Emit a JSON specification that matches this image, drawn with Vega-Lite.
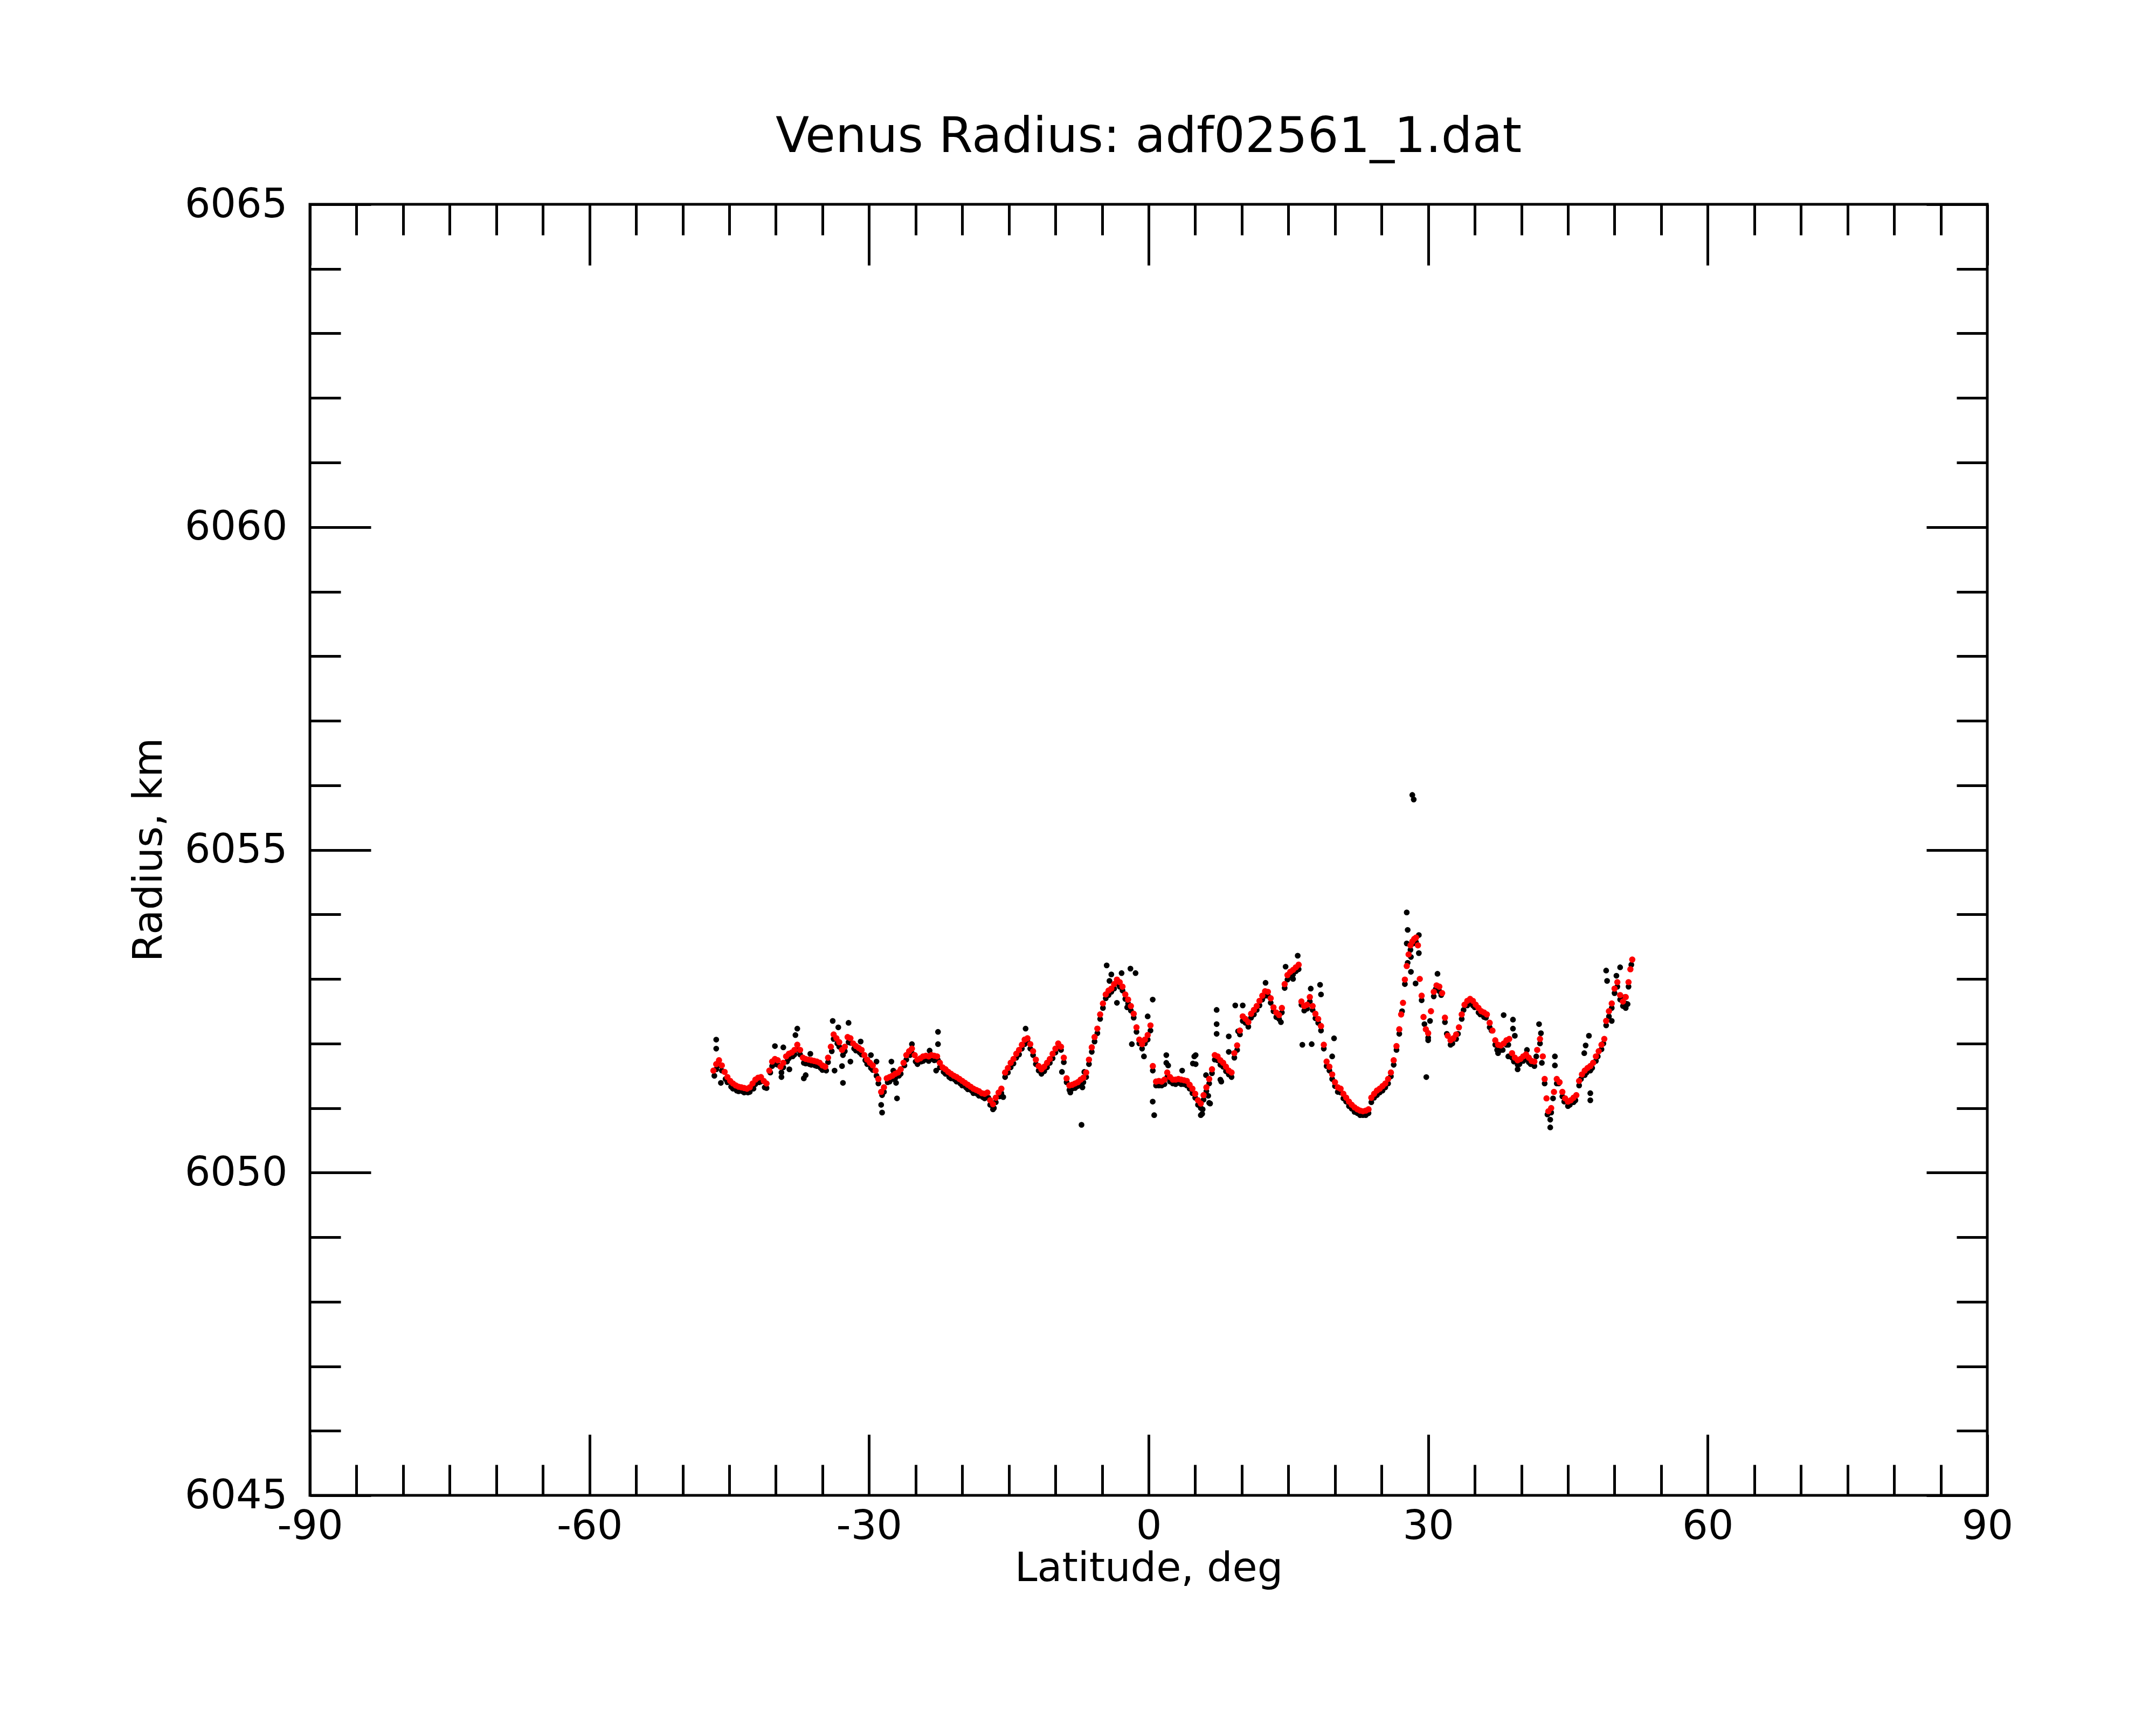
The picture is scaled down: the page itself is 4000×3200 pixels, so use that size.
{
  "$schema": "https://vega.github.io/schema/vega-lite/v6.json",
  "width": 3112,
  "height": 2395,
  "autosize": "none",
  "padding": {"left": 575, "top": 379, "right": 313, "bottom": 426},
  "background": "white",
  "config": {
    "view": {"stroke": "black", "strokeWidth": 5},
    "font": "DejaVu Sans",
    "axis": {
      "grid": false,
      "domain": false,
      "tickColor": "black",
      "tickWidth": 5,
      "labelFont": "DejaVu Sans",
      "labelFontSize": 75,
      "labelColor": "black",
      "labelLimit": 0,
      "titleFont": "DejaVu Sans",
      "titleFontSize": 75,
      "titleFontWeight": "normal",
      "titleColor": "black"
    }
  },
  "title": {
    "text": "Venus Radius: adf02561_1.dat",
    "font": "DejaVu Sans",
    "fontSize": 91,
    "fontWeight": "normal",
    "color": "black",
    "anchor": "middle",
    "baseline": "alphabetic",
    "offset": -31
  },
  "datasets": {
    "fit": [
      {"lat":-46.7,"r":6051.58},{"lat":-46.4,"r":6051.68},{"lat":-46.1,"r":6051.74},{"lat":-45.8,"r":6051.66},{"lat":-45.5,"r":6051.56},{"lat":-45.2,"r":6051.48},{"lat":-44.9,"r":6051.42},{"lat":-44.6,"r":6051.38},{"lat":-44.3,"r":6051.35},{"lat":-44.0,"r":6051.33},
      {"lat":-43.7,"r":6051.32},{"lat":-43.4,"r":6051.31},{"lat":-43.1,"r":6051.3},{"lat":-42.8,"r":6051.32},{"lat":-42.5,"r":6051.38},{"lat":-42.2,"r":6051.44},{"lat":-41.9,"r":6051.47},{"lat":-41.6,"r":6051.48},{"lat":-41.3,"r":6051.42},{"lat":-41.0,"r":6051.38},
      {"lat":-40.7,"r":6051.58},{"lat":-40.4,"r":6051.72},{"lat":-40.1,"r":6051.76},{"lat":-39.8,"r":6051.74},{"lat":-39.5,"r":6051.64},{"lat":-39.2,"r":6051.7},{"lat":-38.9,"r":6051.8},{"lat":-38.6,"r":6051.84},{"lat":-38.3,"r":6051.86},{"lat":-38.0,"r":6051.9},
      {"lat":-37.7,"r":6051.98},{"lat":-37.4,"r":6051.9},{"lat":-37.1,"r":6051.78},{"lat":-36.8,"r":6051.76},{"lat":-36.5,"r":6051.75},{"lat":-36.2,"r":6051.74},{"lat":-35.9,"r":6051.73},{"lat":-35.6,"r":6051.72},{"lat":-35.3,"r":6051.7},{"lat":-35.0,"r":6051.66},
      {"lat":-34.7,"r":6051.64},{"lat":-34.4,"r":6051.78},{"lat":-34.1,"r":6051.95},{"lat":-33.8,"r":6052.14},{"lat":-33.5,"r":6052.08},{"lat":-33.2,"r":6052.02},{"lat":-32.9,"r":6051.9},{"lat":-32.6,"r":6051.95},{"lat":-32.3,"r":6052.1},{"lat":-32.0,"r":6052.08},
      {"lat":-31.7,"r":6052.0},{"lat":-31.4,"r":6051.96},{"lat":-31.1,"r":6051.93},{"lat":-30.8,"r":6051.9},{"lat":-30.5,"r":6051.82},{"lat":-30.2,"r":6051.75},{"lat":-29.9,"r":6051.7},{"lat":-29.6,"r":6051.66},{"lat":-29.3,"r":6051.58},{"lat":-29.0,"r":6051.45},
      {"lat":-28.7,"r":6051.25},{"lat":-28.4,"r":6051.32},{"lat":-28.1,"r":6051.46},{"lat":-27.8,"r":6051.48},{"lat":-27.5,"r":6051.5},{"lat":-27.2,"r":6051.53},{"lat":-26.9,"r":6051.55},{"lat":-26.6,"r":6051.6},{"lat":-26.3,"r":6051.7},{"lat":-26.0,"r":6051.82},
      {"lat":-25.7,"r":6051.88},{"lat":-25.4,"r":6051.92},{"lat":-25.1,"r":6051.82},{"lat":-24.8,"r":6051.75},{"lat":-24.5,"r":6051.77},{"lat":-24.2,"r":6051.8},{"lat":-23.9,"r":6051.81},{"lat":-23.6,"r":6051.8},{"lat":-23.3,"r":6051.82},{"lat":-23.0,"r":6051.81},
      {"lat":-22.7,"r":6051.8},{"lat":-22.4,"r":6051.7},{"lat":-22.1,"r":6051.63},{"lat":-21.8,"r":6051.6},{"lat":-21.5,"r":6051.56},{"lat":-21.2,"r":6051.53},{"lat":-20.9,"r":6051.5},{"lat":-20.6,"r":6051.48},{"lat":-20.3,"r":6051.45},{"lat":-20.0,"r":6051.42},
      {"lat":-19.7,"r":6051.39},{"lat":-19.4,"r":6051.36},{"lat":-19.1,"r":6051.33},{"lat":-18.8,"r":6051.3},{"lat":-18.5,"r":6051.28},{"lat":-18.2,"r":6051.26},{"lat":-17.9,"r":6051.23},{"lat":-17.6,"r":6051.22},{"lat":-17.3,"r":6051.24},{"lat":-17.0,"r":6051.12},
      {"lat":-16.7,"r":6051.06},{"lat":-16.4,"r":6051.16},{"lat":-16.1,"r":6051.24},{"lat":-15.8,"r":6051.3},{"lat":-15.4,"r":6051.55},{"lat":-15.1,"r":6051.62},{"lat":-14.8,"r":6051.7},{"lat":-14.5,"r":6051.76},{"lat":-14.2,"r":6051.84},{"lat":-13.9,"r":6051.9},
      {"lat":-13.6,"r":6051.98},{"lat":-13.3,"r":6052.06},{"lat":-13.0,"r":6052.08},{"lat":-12.7,"r":6051.99},{"lat":-12.4,"r":6051.88},{"lat":-12.1,"r":6051.75},{"lat":-11.8,"r":6051.65},{"lat":-11.5,"r":6051.6},{"lat":-11.2,"r":6051.64},{"lat":-10.9,"r":6051.7},
      {"lat":-10.6,"r":6051.76},{"lat":-10.3,"r":6051.84},{"lat":-10.0,"r":6051.92},{"lat":-9.7,"r":6052.0},{"lat":-9.4,"r":6051.95},{"lat":-9.1,"r":6051.78},{"lat":-8.8,"r":6051.46},{"lat":-8.5,"r":6051.35},{"lat":-8.2,"r":6051.36},{"lat":-7.9,"r":6051.38},
      {"lat":-7.6,"r":6051.4},{"lat":-7.3,"r":6051.44},{"lat":-7.0,"r":6051.47},{"lat":-6.7,"r":6051.55},{"lat":-6.4,"r":6051.75},{"lat":-6.1,"r":6051.94},{"lat":-5.8,"r":6052.1},{"lat":-5.5,"r":6052.23},{"lat":-5.2,"r":6052.45},{"lat":-4.9,"r":6052.62},
      {"lat":-4.6,"r":6052.76},{"lat":-4.3,"r":6052.82},{"lat":-4.0,"r":6052.85},{"lat":-3.7,"r":6052.92},{"lat":-3.4,"r":6052.99},{"lat":-3.1,"r":6052.95},{"lat":-2.8,"r":6052.88},{"lat":-2.5,"r":6052.76},{"lat":-2.2,"r":6052.68},{"lat":-1.9,"r":6052.58},
      {"lat":-1.6,"r":6052.46},{"lat":-1.3,"r":6052.25},{"lat":-1.0,"r":6052.06},{"lat":-0.7,"r":6051.99},{"lat":-0.4,"r":6052.06},{"lat":-0.1,"r":6052.13},{"lat":0.2,"r":6052.28},{"lat":0.45,"r":6051.65},{"lat":0.8,"r":6051.41},{"lat":1.1,"r":6051.42},
      {"lat":1.4,"r":6051.41},{"lat":1.7,"r":6051.44},{"lat":2.0,"r":6051.55},{"lat":2.3,"r":6051.48},{"lat":2.6,"r":6051.44},{"lat":2.9,"r":6051.44},{"lat":3.2,"r":6051.45},{"lat":3.5,"r":6051.44},{"lat":3.8,"r":6051.43},{"lat":4.1,"r":6051.42},
      {"lat":4.4,"r":6051.36},{"lat":4.7,"r":6051.3},{"lat":5.0,"r":6051.22},{"lat":5.3,"r":6051.12},{"lat":5.6,"r":6051.07},{"lat":5.9,"r":6051.2},{"lat":6.2,"r":6051.32},{"lat":6.5,"r":6051.45},{"lat":6.8,"r":6051.6},{"lat":7.1,"r":6051.82},
      {"lat":7.4,"r":6051.8},{"lat":7.7,"r":6051.74},{"lat":8.0,"r":6051.7},{"lat":8.3,"r":6051.64},{"lat":8.6,"r":6051.58},{"lat":8.9,"r":6051.55},{"lat":9.2,"r":6051.85},{"lat":9.5,"r":6051.97},{"lat":9.8,"r":6052.2},{"lat":10.1,"r":6052.42},
      {"lat":10.4,"r":6052.38},{"lat":10.7,"r":6052.33},{"lat":11.0,"r":6052.46},{"lat":11.3,"r":6052.52},{"lat":11.6,"r":6052.58},{"lat":11.9,"r":6052.66},{"lat":12.2,"r":6052.74},{"lat":12.5,"r":6052.81},{"lat":12.8,"r":6052.8},{"lat":13.1,"r":6052.7},
      {"lat":13.4,"r":6052.56},{"lat":13.7,"r":6052.48},{"lat":14.0,"r":6052.44},{"lat":14.3,"r":6052.55},{"lat":14.6,"r":6052.92},{"lat":14.9,"r":6053.06},{"lat":15.2,"r":6053.11},{"lat":15.5,"r":6053.14},{"lat":15.8,"r":6053.18},{"lat":16.1,"r":6053.22},
      {"lat":16.4,"r":6052.65},{"lat":16.7,"r":6052.58},{"lat":17.0,"r":6052.6},{"lat":17.3,"r":6052.72},{"lat":17.6,"r":6052.58},{"lat":17.9,"r":6052.46},{"lat":18.2,"r":6052.38},{"lat":18.5,"r":6052.27},{"lat":18.8,"r":6051.98},{"lat":19.1,"r":6051.72},
      {"lat":19.4,"r":6051.64},{"lat":19.7,"r":6051.52},{"lat":20.0,"r":6051.4},{"lat":20.3,"r":6051.32},{"lat":20.6,"r":6051.3},{"lat":20.9,"r":6051.22},{"lat":21.2,"r":6051.16},{"lat":21.5,"r":6051.1},{"lat":21.8,"r":6051.05},{"lat":22.1,"r":6051.01},
      {"lat":22.4,"r":6050.98},{"lat":22.7,"r":6050.96},{"lat":23.0,"r":6050.95},{"lat":23.3,"r":6050.96},{"lat":23.6,"r":6050.98},{"lat":23.9,"r":6051.16},{"lat":24.2,"r":6051.22},{"lat":24.5,"r":6051.27},{"lat":24.8,"r":6051.3},{"lat":25.1,"r":6051.34},
      {"lat":25.4,"r":6051.38},{"lat":25.7,"r":6051.45},{"lat":26.0,"r":6051.55},{"lat":26.3,"r":6051.74},{"lat":26.6,"r":6051.96},{"lat":26.9,"r":6052.22},{"lat":27.1,"r":6052.45},{"lat":27.3,"r":6052.63},{"lat":27.5,"r":6052.99},{"lat":27.7,"r":6053.2},
      {"lat":27.9,"r":6053.38},{"lat":28.1,"r":6053.52},{"lat":28.3,"r":6053.58},{"lat":28.5,"r":6053.62},{"lat":28.7,"r":6053.64},{"lat":28.9,"r":6053.52},{"lat":29.1,"r":6053.0},{"lat":29.3,"r":6052.74},{"lat":29.5,"r":6052.41},{"lat":29.75,"r":6052.22},
      {"lat":30.0,"r":6052.16},{"lat":30.3,"r":6052.5},{"lat":30.6,"r":6052.8},{"lat":30.9,"r":6052.9},{"lat":31.2,"r":6052.88},{"lat":31.5,"r":6052.78},{"lat":31.8,"r":6052.4},{"lat":32.1,"r":6052.12},{"lat":32.4,"r":6052.05},{"lat":32.7,"r":6052.08},
      {"lat":33.0,"r":6052.14},{"lat":33.3,"r":6052.25},{"lat":33.6,"r":6052.45},{"lat":33.9,"r":6052.6},{"lat":34.2,"r":6052.66},{"lat":34.5,"r":6052.69},{"lat":34.8,"r":6052.66},{"lat":35.1,"r":6052.6},{"lat":35.4,"r":6052.55},{"lat":35.7,"r":6052.5},
      {"lat":36.0,"r":6052.48},{"lat":36.3,"r":6052.45},{"lat":36.6,"r":6052.32},{"lat":36.9,"r":6052.2},{"lat":37.2,"r":6052.05},{"lat":37.5,"r":6051.98},{"lat":37.8,"r":6051.97},{"lat":38.1,"r":6052.0},{"lat":38.4,"r":6052.05},{"lat":38.7,"r":6052.07},
      {"lat":39.0,"r":6051.85},{"lat":39.3,"r":6051.78},{"lat":39.6,"r":6051.74},{"lat":39.9,"r":6051.76},{"lat":40.2,"r":6051.8},{"lat":40.5,"r":6051.83},{"lat":40.8,"r":6051.78},{"lat":41.1,"r":6051.73},{"lat":41.4,"r":6051.72},{"lat":41.7,"r":6051.9},
      {"lat":42.0,"r":6052.07},{"lat":42.3,"r":6051.8},{"lat":42.5,"r":6051.45},{"lat":42.7,"r":6051.15},{"lat":42.9,"r":6050.95},{"lat":43.2,"r":6051.0},{"lat":43.5,"r":6051.25},{"lat":43.8,"r":6051.45},{"lat":44.1,"r":6051.4},{"lat":44.4,"r":6051.25},
      {"lat":44.7,"r":6051.15},{"lat":45.0,"r":6051.1},{"lat":45.3,"r":6051.12},{"lat":45.6,"r":6051.16},{"lat":45.9,"r":6051.2},{"lat":46.2,"r":6051.42},{"lat":46.5,"r":6051.52},{"lat":46.8,"r":6051.58},{"lat":47.1,"r":6051.62},{"lat":47.4,"r":6051.65},
      {"lat":47.7,"r":6051.7},{"lat":48.0,"r":6051.8},{"lat":48.3,"r":6051.88},{"lat":48.6,"r":6051.98},{"lat":48.9,"r":6052.07},{"lat":49.1,"r":6052.35},{"lat":49.4,"r":6052.5},{"lat":49.7,"r":6052.62},{"lat":50.0,"r":6052.85},{"lat":50.3,"r":6052.95},
      {"lat":50.6,"r":6052.75},{"lat":50.9,"r":6052.65},{"lat":51.2,"r":6052.72},{"lat":51.5,"r":6052.95},{"lat":51.7,"r":6053.15},{"lat":51.9,"r":6053.3}
    ],
    "obs": [
      {"lat":-46.6,"r":6051.5},{"lat":-46.0,"r":6051.66},{"lat":-45.4,"r":6051.45},{"lat":-44.8,"r":6051.33},{"lat":-44.2,"r":6051.27},{"lat":-43.6,"r":6051.26},{"lat":-43.0,"r":6051.24},{"lat":-42.4,"r":6051.3},{"lat":-41.8,"r":6051.4},{"lat":-41.2,"r":6051.32},
      {"lat":-40.6,"r":6051.55},{"lat":-40.0,"r":6051.68},{"lat":-39.4,"r":6051.55},{"lat":-38.8,"r":6051.72},{"lat":-38.2,"r":6051.8},{"lat":-37.6,"r":6051.9},{"lat":-37.0,"r":6051.7},{"lat":-36.4,"r":6051.68},{"lat":-35.8,"r":6051.66},{"lat":-35.2,"r":6051.62},
      {"lat":-34.6,"r":6051.58},{"lat":-34.0,"r":6051.88},{"lat":-33.4,"r":6052.0},{"lat":-32.8,"r":6051.82},{"lat":-32.2,"r":6052.02},{"lat":-31.6,"r":6051.92},{"lat":-31.0,"r":6051.86},{"lat":-30.4,"r":6051.74},{"lat":-29.8,"r":6051.62},{"lat":-29.2,"r":6051.5},
      {"lat":-28.6,"r":6051.2},{"lat":-28.0,"r":6051.4},{"lat":-27.4,"r":6051.45},{"lat":-26.8,"r":6051.5},{"lat":-26.2,"r":6051.66},{"lat":-25.6,"r":6051.82},{"lat":-25.0,"r":6051.72},{"lat":-24.4,"r":6051.72},{"lat":-23.8,"r":6051.75},{"lat":-23.2,"r":6051.76},
      {"lat":-22.6,"r":6051.74},{"lat":-22.0,"r":6051.56},{"lat":-21.4,"r":6051.48},{"lat":-20.8,"r":6051.44},{"lat":-20.2,"r":6051.38},{"lat":-19.6,"r":6051.32},{"lat":-19.0,"r":6051.27},{"lat":-18.4,"r":6051.22},{"lat":-17.8,"r":6051.17},{"lat":-17.2,"r":6051.16},
      {"lat":-16.6,"r":6051.0},{"lat":-16.0,"r":6051.18},{"lat":-15.4,"r":6051.48},{"lat":-14.8,"r":6051.63},{"lat":-14.2,"r":6051.78},{"lat":-13.6,"r":6051.92},{"lat":-13.0,"r":6052.03},{"lat":-12.4,"r":6051.82},{"lat":-11.8,"r":6051.58},{"lat":-11.2,"r":6051.57},
      {"lat":-10.6,"r":6051.7},{"lat":-10.0,"r":6051.86},{"lat":-9.4,"r":6051.9},{"lat":-8.8,"r":6051.4},{"lat":-8.2,"r":6051.3},{"lat":-7.6,"r":6051.34},{"lat":-7.0,"r":6051.4},{"lat":-6.4,"r":6051.68},{"lat":-5.8,"r":6052.03},{"lat":-5.2,"r":6052.38},
      {"lat":-4.6,"r":6052.7},{"lat":-4.0,"r":6052.8},{"lat":-3.4,"r":6052.93},{"lat":-2.8,"r":6052.82},{"lat":-2.2,"r":6052.62},{"lat":-1.6,"r":6052.4},{"lat":-1.0,"r":6052.0},{"lat":-0.4,"r":6052.0},{"lat":0.2,"r":6052.2},{"lat":0.8,"r":6051.35},
      {"lat":1.4,"r":6051.35},{"lat":2.0,"r":6051.48},{"lat":2.6,"r":6051.38},{"lat":3.2,"r":6051.39},{"lat":3.8,"r":6051.37},{"lat":4.4,"r":6051.3},{"lat":5.0,"r":6051.16},{"lat":5.6,"r":6051.0},{"lat":6.2,"r":6051.26},{"lat":6.8,"r":6051.54},
      {"lat":7.4,"r":6051.74},{"lat":8.0,"r":6051.64},{"lat":8.6,"r":6051.52},{"lat":9.2,"r":6051.78},{"lat":9.8,"r":6052.14},{"lat":10.4,"r":6052.32},{"lat":11.0,"r":6052.4},{"lat":11.6,"r":6052.52},{"lat":12.2,"r":6052.68},{"lat":12.8,"r":6052.74},
      {"lat":13.4,"r":6052.5},{"lat":14.0,"r":6052.38},{"lat":14.6,"r":6052.86},{"lat":15.2,"r":6053.05},{"lat":15.8,"r":6053.12},{"lat":16.4,"r":6052.6},{"lat":17.0,"r":6052.54},{"lat":17.6,"r":6052.52},{"lat":18.2,"r":6052.32},{"lat":18.8,"r":6051.92},
      {"lat":19.4,"r":6051.58},{"lat":20.0,"r":6051.34},{"lat":20.6,"r":6051.24},{"lat":21.2,"r":6051.1},{"lat":21.8,"r":6050.99},{"lat":22.4,"r":6050.92},{"lat":23.0,"r":6050.89},{"lat":23.6,"r":6050.92},{"lat":24.2,"r":6051.16},{"lat":24.8,"r":6051.24},
      {"lat":25.4,"r":6051.32},{"lat":26.0,"r":6051.49},{"lat":26.6,"r":6051.9},{"lat":27.2,"r":6052.5},{"lat":27.8,"r":6053.25},{"lat":28.4,"r":6053.55},{"lat":29.0,"r":6053.4},{"lat":29.6,"r":6052.3},{"lat":30.2,"r":6052.35},{"lat":30.8,"r":6052.84},
      {"lat":31.4,"r":6052.75},{"lat":32.0,"r":6052.15},{"lat":32.6,"r":6052.0},{"lat":33.2,"r":6052.15},{"lat":33.8,"r":6052.52},{"lat":34.4,"r":6052.62},{"lat":35.0,"r":6052.56},{"lat":35.6,"r":6052.45},{"lat":36.2,"r":6052.4},{"lat":36.8,"r":6052.2},
      {"lat":37.4,"r":6051.9},{"lat":38.0,"r":6051.9},{"lat":38.6,"r":6051.98},{"lat":39.2,"r":6051.72},{"lat":39.8,"r":6051.68},{"lat":40.4,"r":6051.76},{"lat":41.0,"r":6051.68},{"lat":41.6,"r":6051.8},{"lat":42.2,"r":6051.7},{"lat":42.8,"r":6050.9},
      {"lat":43.4,"r":6051.15},{"lat":44.0,"r":6051.38},{"lat":44.6,"r":6051.1},{"lat":45.2,"r":6051.05},{"lat":45.8,"r":6051.12},{"lat":46.4,"r":6051.45},{"lat":47.0,"r":6051.55},{"lat":47.6,"r":6051.62},{"lat":48.2,"r":6051.8},{"lat":48.8,"r":6052.0},
      {"lat":49.4,"r":6052.42},{"lat":50.0,"r":6052.78},{"lat":50.6,"r":6052.68},{"lat":51.2,"r":6052.62},{"lat":51.8,"r":6053.22},
      {"lat":-46.4,"r":6051.6},{"lat":-45.8,"r":6051.58},{"lat":-45.2,"r":6051.4},{"lat":-44.6,"r":6051.3},{"lat":-44.0,"r":6051.26},{"lat":-43.4,"r":6051.24},{"lat":-42.8,"r":6051.25},{"lat":-42.2,"r":6051.37},{"lat":-41.6,"r":6051.41},{"lat":-41.0,"r":6051.31},
      {"lat":-40.4,"r":6051.65},{"lat":-39.8,"r":6051.67},{"lat":-39.2,"r":6051.63},{"lat":-38.6,"r":6051.77},{"lat":-38.0,"r":6051.83},{"lat":-37.4,"r":6051.83},{"lat":-36.8,"r":6051.69},{"lat":-36.2,"r":6051.67},{"lat":-35.6,"r":6051.65},{"lat":-35.0,"r":6051.59},
      {"lat":-34.4,"r":6051.71},{"lat":-33.8,"r":6052.07},{"lat":-33.2,"r":6051.95},{"lat":-32.6,"r":6051.88},{"lat":-32.0,"r":6052.01},{"lat":-31.4,"r":6051.89},{"lat":-30.8,"r":6051.83},{"lat":-30.2,"r":6051.68},{"lat":-29.6,"r":6051.59},{"lat":-29.0,"r":6051.38},
      {"lat":-28.4,"r":6051.25},{"lat":-27.8,"r":6051.41},{"lat":-27.2,"r":6051.46},{"lat":-26.6,"r":6051.53},{"lat":-26.0,"r":6051.75},{"lat":-25.4,"r":6051.85},{"lat":-24.8,"r":6051.68},{"lat":-24.2,"r":6051.73},{"lat":-23.6,"r":6051.73},{"lat":-23.0,"r":6051.74},
      {"lat":-22.4,"r":6051.63},{"lat":-21.8,"r":6051.53},{"lat":-21.2,"r":6051.46},{"lat":-20.6,"r":6051.41},{"lat":-20.0,"r":6051.35},{"lat":-19.4,"r":6051.29},{"lat":-18.8,"r":6051.23},{"lat":-18.2,"r":6051.19},{"lat":-17.6,"r":6051.15},{"lat":-17.0,"r":6051.05},
      {"lat":-16.4,"r":6051.09},{"lat":-15.8,"r":6051.23},{"lat":-15.1,"r":6051.55},{"lat":-14.5,"r":6051.69},{"lat":-13.9,"r":6051.83},{"lat":-13.3,"r":6051.99},{"lat":-12.7,"r":6051.92},{"lat":-12.1,"r":6051.68},{"lat":-11.5,"r":6051.53},{"lat":-10.9,"r":6051.63},
      {"lat":-10.3,"r":6051.77},{"lat":-9.7,"r":6051.93},{"lat":-9.1,"r":6051.71},{"lat":-8.5,"r":6051.28},{"lat":-7.9,"r":6051.31},{"lat":-7.3,"r":6051.37},{"lat":-6.7,"r":6051.48},{"lat":-6.1,"r":6051.87},{"lat":-5.5,"r":6052.16},{"lat":-4.9,"r":6052.55},
      {"lat":-4.3,"r":6052.75},{"lat":-3.7,"r":6052.85},{"lat":-3.1,"r":6052.88},{"lat":-2.5,"r":6052.69},{"lat":-1.9,"r":6052.51},{"lat":-1.3,"r":6052.18},{"lat":-0.7,"r":6051.92},{"lat":-0.1,"r":6052.06},{"lat":0.45,"r":6051.58},{"lat":1.1,"r":6051.35},
      {"lat":1.7,"r":6051.37},{"lat":2.3,"r":6051.41},{"lat":2.9,"r":6051.37},{"lat":3.5,"r":6051.37},{"lat":4.1,"r":6051.35},{"lat":4.7,"r":6051.23},{"lat":5.3,"r":6051.05},{"lat":5.9,"r":6051.13},{"lat":6.5,"r":6051.38},{"lat":7.1,"r":6051.75},
      {"lat":7.7,"r":6051.67},{"lat":8.3,"r":6051.57},{"lat":8.9,"r":6051.48},{"lat":9.5,"r":6051.9},{"lat":10.1,"r":6052.35},{"lat":10.7,"r":6052.26},{"lat":11.3,"r":6052.45},{"lat":11.9,"r":6052.59},{"lat":12.5,"r":6052.74},{"lat":13.1,"r":6052.63},
      {"lat":13.7,"r":6052.41},{"lat":14.3,"r":6052.48},{"lat":14.9,"r":6052.99},{"lat":15.5,"r":6053.07},{"lat":16.1,"r":6053.15},{"lat":16.7,"r":6052.51},{"lat":17.3,"r":6052.65},{"lat":17.9,"r":6052.39},{"lat":18.5,"r":6052.2},{"lat":19.1,"r":6051.65},
      {"lat":19.7,"r":6051.45},{"lat":20.3,"r":6051.25},{"lat":20.9,"r":6051.15},{"lat":21.5,"r":6051.03},{"lat":22.1,"r":6050.94},{"lat":22.7,"r":6050.89},{"lat":23.3,"r":6050.89},{"lat":23.9,"r":6051.09},{"lat":24.5,"r":6051.2},{"lat":25.1,"r":6051.27},
      {"lat":25.7,"r":6051.38},{"lat":26.3,"r":6051.67},{"lat":26.9,"r":6052.15},{"lat":27.5,"r":6052.92},{"lat":28.1,"r":6053.45},{"lat":28.7,"r":6053.57},{"lat":29.3,"r":6052.67},{"lat":30.0,"r":6052.09},{"lat":30.6,"r":6052.73},{"lat":31.2,"r":6052.81},
      {"lat":31.8,"r":6052.33},{"lat":32.4,"r":6051.98},{"lat":33.0,"r":6052.07},{"lat":33.6,"r":6052.38},{"lat":34.2,"r":6052.59},{"lat":34.8,"r":6052.59},{"lat":35.4,"r":6052.48},{"lat":36.0,"r":6052.41},{"lat":36.6,"r":6052.25},{"lat":37.2,"r":6051.98},
      {"lat":37.8,"r":6051.9},{"lat":38.4,"r":6051.98},{"lat":39.0,"r":6051.78},{"lat":39.6,"r":6051.67},{"lat":40.2,"r":6051.73},{"lat":40.8,"r":6051.71},{"lat":41.4,"r":6051.65},{"lat":42.0,"r":6052.0},{"lat":42.5,"r":6051.38},{"lat":43.2,"r":6050.93},
      {"lat":43.8,"r":6051.38},{"lat":44.4,"r":6051.18},{"lat":45.0,"r":6051.03},{"lat":45.6,"r":6051.09},{"lat":46.2,"r":6051.35},{"lat":46.8,"r":6051.51},{"lat":47.4,"r":6051.58},{"lat":48.0,"r":6051.73},{"lat":48.6,"r":6051.91},{"lat":49.1,"r":6052.28},
      {"lat":49.7,"r":6052.55},{"lat":50.3,"r":6052.88},{"lat":50.9,"r":6052.58},{"lat":51.5,"r":6052.88},
      {"lat":-46.4,"r":6052.06},{"lat":-46.4,"r":6051.92},{"lat":-45.9,"r":6051.39},{"lat":-40.1,"r":6051.96},{"lat":-39.2,"r":6051.94},{"lat":-39.4,"r":6051.48},{"lat":-38.55,"r":6051.6},{"lat":-37.7,"r":6052.23},{"lat":-37.9,"r":6052.13},{"lat":-37.0,"r":6051.46},
      {"lat":-36.8,"r":6051.51},{"lat":-36.3,"r":6051.84},{"lat":-33.9,"r":6052.35},{"lat":-33.3,"r":6052.25},{"lat":-32.2,"r":6052.32},{"lat":-33.7,"r":6051.58},{"lat":-32.8,"r":6051.39},{"lat":-32.9,"r":6051.65},{"lat":-32.0,"r":6051.72},{"lat":-30.9,"r":6052.03},
      {"lat":-29.8,"r":6051.82},{"lat":-29.2,"r":6051.72},{"lat":-28.7,"r":6051.05},{"lat":-28.6,"r":6050.93},{"lat":-27.6,"r":6051.72},{"lat":-27.4,"r":6051.58},{"lat":-27.1,"r":6051.39},{"lat":-27.0,"r":6051.15},{"lat":-25.4,"r":6051.99},{"lat":-23.5,"r":6051.89},
      {"lat":-22.6,"r":6052.18},{"lat":-22.6,"r":6051.99},{"lat":-22.8,"r":6051.58},{"lat":-21.7,"r":6051.58},{"lat":-16.7,"r":6050.98},{"lat":-15.6,"r":6051.17},{"lat":-13.2,"r":6052.23},{"lat":-9.3,"r":6051.56},{"lat":-8.4,"r":6051.24},{"lat":-7.2,"r":6050.74},
      {"lat":-7.1,"r":6051.32},{"lat":-6.9,"r":6051.56},{"lat":-4.5,"r":6053.21},{"lat":-4.2,"r":6052.97},{"lat":-4.0,"r":6053.07},{"lat":-3.4,"r":6052.63},{"lat":-2.9,"r":6053.09},{"lat":-1.95,"r":6053.16},{"lat":-1.4,"r":6053.09},{"lat":-2.3,"r":6052.56},
      {"lat":-1.8,"r":6051.99},{"lat":-0.5,"r":6051.8},{"lat":-0.1,"r":6052.42},{"lat":0.44,"r":6052.68},{"lat":0.44,"r":6051.1},{"lat":0.6,"r":6050.89},{"lat":1.9,"r":6051.82},{"lat":1.9,"r":6051.7},{"lat":3.6,"r":6051.58},{"lat":5.05,"r":6051.82},
      {"lat":5.05,"r":6051.68},{"lat":5.8,"r":6050.98},{"lat":5.6,"r":6050.89},{"lat":6.16,"r":6051.51},{"lat":6.5,"r":6051.08},{"lat":7.3,"r":6052.52},{"lat":7.3,"r":6052.3},{"lat":7.3,"r":6052.15},{"lat":8.6,"r":6052.11},{"lat":9.3,"r":6052.59},
      {"lat":7.8,"r":6051.41},{"lat":10.1,"r":6052.59},{"lat":9.6,"r":6052.19},{"lat":8.6,"r":6051.87},{"lat":7.7,"r":6051.44},{"lat":6.4,"r":6051.19},{"lat":6.6,"r":6051.07},{"lat":5.75,"r":6050.91},{"lat":2.1,"r":6051.66},{"lat":4.9,"r":6051.8},
      {"lat":4.75,"r":6051.69},{"lat":12.55,"r":6052.94},{"lat":14.7,"r":6053.19},{"lat":16.0,"r":6053.36},{"lat":15.5,"r":6053.0},{"lat":16.5,"r":6051.98},{"lat":17.5,"r":6051.99},{"lat":17.4,"r":6052.85},{"lat":18.4,"r":6052.91},{"lat":18.5,"r":6052.76},
      {"lat":19.9,"r":6052.08},{"lat":19.7,"r":6051.8},{"lat":14.2,"r":6052.33},{"lat":27.7,"r":6054.03},{"lat":27.8,"r":6053.76},{"lat":29.0,"r":6053.68},{"lat":27.7,"r":6053.55},{"lat":28.15,"r":6053.34},{"lat":28.15,"r":6053.11},{"lat":28.65,"r":6052.93},
      {"lat":29.8,"r":6051.48},{"lat":30.0,"r":6052.05},{"lat":31.0,"r":6053.08},{"lat":28.3,"r":6055.85},{"lat":28.45,"r":6055.78},{"lat":38.1,"r":6052.44},{"lat":39.1,"r":6052.37},{"lat":39.1,"r":6052.23},{"lat":39.3,"r":6052.12},{"lat":37.5,"r":6051.85},
      {"lat":38.6,"r":6051.8},{"lat":39.6,"r":6051.6},{"lat":40.6,"r":6051.9},{"lat":41.9,"r":6052.3},{"lat":42.1,"r":6052.16},{"lat":43.6,"r":6051.8},{"lat":43.6,"r":6051.66},{"lat":43.1,"r":6050.82},{"lat":43.1,"r":6050.7},{"lat":47.25,"r":6052.12},
      {"lat":46.9,"r":6051.97},{"lat":46.75,"r":6051.85},{"lat":47.4,"r":6051.23},{"lat":47.4,"r":6051.12},{"lat":49.1,"r":6053.13},{"lat":50.6,"r":6053.18},{"lat":50.2,"r":6053.05},{"lat":49.2,"r":6052.97},{"lat":49.7,"r":6052.35},{"lat":51.2,"r":6052.55},
      {"lat":51.1,"r":6052.72},{"lat":51.4,"r":6052.61}
    ]
  },
  "layer": [
    {
      "data": {"name": "obs"},
      "mark": {"type": "circle", "color": "black", "opacity": 1, "size": 115},
      "encoding": {
        "x": {
          "field": "lat", "type": "quantitative",
          "scale": {"domain": [-90, 90], "nice": false, "zero": false},
          "axis": {"orient": "bottom", "values": [-90, -60, -30, 0, 30, 60, 90], "labelExpr": "toString(datum.value)", "tickSize": -113, "labelPadding": 134, "labelFlush": false, "title": "Latitude, deg", "titleX": 1556, "titleY": 158, "titleBaseline": "alphabetic"}
        },
        "y": {
          "field": "r", "type": "quantitative",
          "scale": {"domain": [6045, 6065], "nice": false, "zero": false},
          "axis": {"orient": "left", "values": [6045, 6050, 6055, 6060, 6065], "labelExpr": "toString(datum.value)", "tickSize": -113, "labelPadding": 155, "labelFlush": false, "title": "Radius, km", "titleX": -276, "titleY": 1197, "titleBaseline": "alphabetic", "titleAngle": -90}
        }
      }
    },
    {
      "data": {"name": "fit"},
      "mark": {"type": "circle", "color": "red", "opacity": 1, "size": 135},
      "encoding": {
        "x": {
          "field": "lat", "type": "quantitative",
          "axis": {"orient": "top", "values": [-90, -60, -30, 0, 30, 60, 90], "tickSize": -113, "labels": false, "title": null}
        },
        "y": {
          "field": "r", "type": "quantitative",
          "axis": {"orient": "right", "values": [6045, 6050, 6055, 6060, 6065], "tickSize": -113, "labels": false, "title": null}
        }
      }
    },
    {
      "data": {"values": []},
      "mark": {"type": "circle"},
      "encoding": {
        "x": {
          "field": "lat", "type": "quantitative",
          "axis": {"orient": "bottom", "values": [-85, -80, -75, -70, -65, -55, -50, -45, -40, -35, -25, -20, -15, -10, -5, 5, 10, 15, 20, 25, 35, 40, 45, 50, 55, 65, 70, 75, 80, 85], "tickSize": -57, "labels": false, "title": null}
        },
        "y": {
          "field": "r", "type": "quantitative",
          "axis": {"orient": "left", "values": [6046, 6047, 6048, 6049, 6051, 6052, 6053, 6054, 6056, 6057, 6058, 6059, 6061, 6062, 6063, 6064], "tickSize": -57, "labels": false, "title": null}
        }
      }
    },
    {
      "data": {"values": []},
      "mark": {"type": "circle"},
      "encoding": {
        "x": {
          "field": "lat", "type": "quantitative",
          "axis": {"orient": "top", "values": [-85, -80, -75, -70, -65, -55, -50, -45, -40, -35, -25, -20, -15, -10, -5, 5, 10, 15, 20, 25, 35, 40, 45, 50, 55, 65, 70, 75, 80, 85], "tickSize": -57, "labels": false, "title": null}
        },
        "y": {
          "field": "r", "type": "quantitative",
          "axis": {"orient": "right", "values": [6046, 6047, 6048, 6049, 6051, 6052, 6053, 6054, 6056, 6057, 6058, 6059, 6061, 6062, 6063, 6064], "tickSize": -57, "labels": false, "title": null}
        }
      }
    }
  ],
  "resolve": {"axis": {"x": "independent", "y": "independent"}}
}
